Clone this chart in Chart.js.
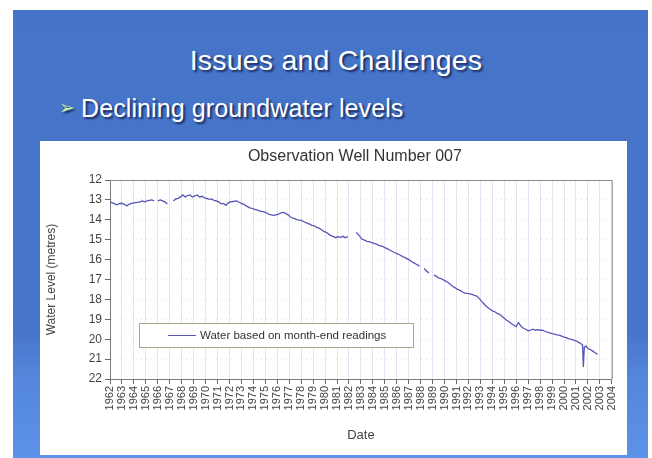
<!DOCTYPE html>
<html lang="en">
<head>
    <meta charset="UTF-8">
    <title>Issues and Challenges</title>
    <script src="https://cdn.jsdelivr.net/npm/chart.js"></script>
    <style>
        html, body {
            margin: 0;
            padding: 0;
            background: #fff;
            width: 652px;
            height: 458px;
            overflow: hidden;
            font-family: "Liberation Sans", Arial, sans-serif;
        }
        #slide {
            position: absolute;
            left: 13px;
            top: 10px;
            width: 635px;
            height: 448px;
            background: linear-gradient(to bottom, #4674c9 0%, #4775ca 72%, #5487db 82%, #5c92e8 100%);
        }
        #title {
            position: absolute;
            left: 0;
            width: 672px;
            top: 44px;
            text-align: center;
            color: #fff;
            font-size: 28.5px;
            letter-spacing: 0.2px;
            text-shadow: 2px 2px 2px #1c2c5c;
        }
        #bullet {
            position: absolute;
            left: 59px;
            top: 94px;
            color: #fff;
            font-size: 25px;
            letter-spacing: 0.1px;
            text-shadow: 2px 2px 2px #1c2c5c;
        }
        #bullet span {
            color: #c6f0a4;
            font-size: 19px;
            margin-right: 6px;
            font-family: "DejaVu Sans", sans-serif;
            vertical-align: 3px;
        }
        #panel {
            position: absolute;
            left: 40px;
            top: 141px;
            width: 587px;
            height: 314px;
            background: #fff;
        }
    </style>
</head>
<body>
    <div id="slide"></div>
    <div id="title">Issues and Challenges</div>
    <div id="bullet"><span>&#10146;</span>Declining groundwater levels</div>
    <div id="panel">
        <canvas id="wellChart" width="587" height="314"></canvas>
    </div>

    <script>
        // readings taken off the chart (year as decimal, level in metres below ground), null = gap
        const years = [
            1962.0, 1962.2, 1962.4, 1962.6, 1962.8, 1963.0, 1963.2, 1963.4, 1963.6, 1963.8,
            1964.0, 1964.3, 1964.5, 1964.7, 1964.9, 1965.1, 1965.3, 1965.5, 1965.7, 1965.85,
            1966.0, 1966.2, 1966.4, 1966.6, 1966.8, 1967.0,
            1967.3, 1967.5, 1967.7, 1967.9, 1968.1, 1968.3, 1968.5, 1968.7, 1968.9,
            1969.1, 1969.3, 1969.5, 1969.7, 1969.9, 1970.1, 1970.3, 1970.5, 1970.7, 1970.9,
            1971.1, 1971.3, 1971.5, 1971.7, 1971.9, 1972.1, 1972.3, 1972.6, 1972.8,
            1973.0, 1973.2, 1973.4, 1973.7, 1973.9, 1974.1, 1974.3, 1974.5, 1974.7, 1974.9,
            1975.1, 1975.3, 1975.5, 1975.7, 1975.9, 1976.1, 1976.3, 1976.5, 1976.7, 1976.9,
            1977.1, 1977.3, 1977.5, 1977.7, 1977.9, 1978.1, 1978.3, 1978.5, 1978.7, 1978.9,
            1979.1, 1979.3, 1979.5, 1979.7, 1979.9, 1980.1, 1980.3, 1980.5, 1980.7, 1980.9,
            1981.1, 1981.3, 1981.5, 1981.7, 1981.9, 1982.3,
            1982.6, 1982.9, 1983.1, 1983.3, 1983.5, 1983.7, 1983.9,
            1984.1, 1984.3, 1984.5, 1984.8, 1985.0, 1985.2, 1985.4, 1985.6, 1985.9,
            1986.1, 1986.3, 1986.5, 1986.7, 1987.0, 1987.2, 1987.4, 1987.6, 1987.9, 1988.1,
            1988.3, 1988.5, 1988.7, 1988.9,
            1989.1, 1989.3, 1989.5, 1989.7, 1989.9, 1990.1, 1990.3, 1990.5, 1990.7, 1990.9,
            1991.1, 1991.3, 1991.5, 1991.7, 1991.9, 1992.1, 1992.3, 1992.5, 1992.7, 1992.9,
            1993.1, 1993.3, 1993.5, 1993.7, 1994.0, 1994.2, 1994.4, 1994.6, 1994.8,
            1995.0, 1995.2, 1995.4, 1995.6, 1995.8, 1996.0, 1996.1, 1996.2, 1996.4, 1996.6, 1996.8,
            1997.0, 1997.2, 1997.4, 1997.6, 1997.8, 1998.0, 1998.2, 1998.4, 1998.6, 1998.8,
            1999.0, 1999.2, 1999.4, 1999.6, 1999.8, 2000.0, 2000.2, 2000.4, 2000.6, 2000.8,
            2001.0, 2001.2, 2001.4, 2001.55, 2001.62, 2001.7, 2001.85,
            2002.0, 2002.2, 2002.4, 2002.6, 2002.8
        ];
        const levels = [
            13.10, 13.15, 13.20, 13.25, 13.18, 13.17, 13.22, 13.30, 13.22, 13.18,
            13.15, 13.12, 13.10, 13.05, 13.10, 13.05, 13.02, 13.00, 13.05, null,
            13.05, 13.00, 13.05, 13.10, 13.20, null,
            13.05, 12.95, 12.92, 12.85, 12.75, 12.85, 12.78, 12.75, 12.85,
            12.80, 12.75, 12.85, 12.82, 12.90, 12.92, 12.97, 12.95, 13.02, 13.05,
            13.10, 13.20, 13.18, 13.27, 13.15, 13.10, 13.08, 13.05, 13.12,
            13.17, 13.22, 13.30, 13.40, 13.42, 13.48, 13.50, 13.55, 13.58, 13.60,
            13.66, 13.73, 13.75, 13.78, 13.75, 13.72, 13.65, 13.63, 13.68, 13.75,
            13.85, 13.92, 13.95, 14.00, 14.02, 14.05, 14.12, 14.17, 14.22, 14.28,
            14.30, 14.38, 14.42, 14.50, 14.58, 14.63, 14.72, 14.80, 14.85, 14.90,
            14.85, 14.88, 14.83, 14.90, 14.85, null,
            14.63, 14.82, 14.98, 15.02, 15.08, 15.10, 15.15,
            15.18, 15.22, 15.28, 15.33, 15.40, 15.45, 15.52, 15.58, 15.67,
            15.72, 15.78, 15.85, 15.90, 16.00, 16.08, 16.15, 16.22, 16.33, null,
            16.45, 16.58, 16.67, null,
            16.78, 16.83, 16.92, 16.95, 17.02, 17.08, 17.15, 17.25, 17.35, 17.42,
            17.50, 17.55, 17.63, 17.68, 17.70, 17.72, 17.75, 17.80, 17.83, 17.95,
            18.10, 18.22, 18.35, 18.45, 18.58, 18.62, 18.70, 18.75, 18.85,
            18.95, 19.05, 19.12, 19.22, 19.30, 19.37, 19.25, 19.17, 19.35, 19.45, 19.50,
            19.58, 19.55, 19.50, 19.55, 19.52, 19.55, 19.55, 19.60, 19.65, 19.68,
            19.72, 19.75, 19.78, 19.80, 19.85, 19.90, 19.92, 19.98, 20.00, 20.05,
            20.08, 20.15, 20.22, 20.28, 21.40, 20.40, 20.35,
            20.47, 20.52, 20.60, 20.68, 20.75
        ];
        const seriesLabel = 'Water based on month-end readings';
        const chartTitle = 'Observation Well Number 007';
        const yearMin = 1962, yearMax = 2004;
        const levelMin = 12, levelMax = 22;

        const lineColor = '#5656b4';
        const font = '"Liberation Sans", Arial, sans-serif';

        // title centred over the plot, top/right frame and the legend box inside the plot
        const framePlugin = {
            id: 'frame',
            afterDraw(chart) {
                const ctx = chart.ctx;
                const a = chart.chartArea;
                ctx.save();
                ctx.fillStyle = '#333';
                ctx.font = '16px ' + font;
                ctx.textAlign = 'center';
                ctx.textBaseline = 'middle';
                ctx.fillText(chartTitle, (a.left + a.right) / 2 - 6, a.top - 23);

                ctx.strokeStyle = '#8c8c8c';
                ctx.lineWidth = 1;
                ctx.beginPath();
                ctx.moveTo(a.left, a.top + 0.5);
                ctx.lineTo(a.right + 0.5, a.top + 0.5);
                ctx.lineTo(a.right + 0.5, a.bottom);
                ctx.stroke();

                const bx = a.left + 29, by = a.top + 143, bw = 274, bh = 24;
                ctx.fillStyle = '#fff';
                ctx.fillRect(bx, by, bw, bh);
                ctx.strokeStyle = '#a8a690';
                ctx.strokeRect(bx + 0.5, by + 0.5, bw, bh);
                const ds = chart.data.datasets[0];
                ctx.strokeStyle = ds.borderColor;
                ctx.beginPath();
                ctx.moveTo(bx + 29, by + 12.5);
                ctx.lineTo(bx + 57, by + 12.5);
                ctx.stroke();
                ctx.fillStyle = '#333';
                ctx.font = '11.5px ' + font;
                ctx.textAlign = 'left';
                ctx.fillText(ds.label, bx + 61, by + 12.5);
                ctx.restore();
            }
        };

        const ctx = document.getElementById('wellChart').getContext('2d');
        new Chart(ctx, {
            type: 'line',
            data: {
                datasets: [{
                    label: seriesLabel,
                    data: years.map((x, i) => ({ x: x, y: levels[i] })),
                    borderColor: lineColor,
                    borderWidth: 1.3,
                    pointRadius: 0,
                    spanGaps: false,
                    tension: 0
                }]
            },
            options: {
                responsive: false,
                animation: false,
                layout: { padding: { left: 0, right: 14, top: 39, bottom: 8 } },
                plugins: {
                    legend: { display: false },
                    tooltip: { enabled: false },
                    title: { display: false }
                },
                scales: {
                    x: {
                        type: 'linear',
                        min: yearMin,
                        max: yearMax,
                        afterFit: s => { s.height = 68; },
                        ticks: {
                            stepSize: 1,
                            autoSkip: false,
                            minRotation: 90,
                            maxRotation: 90,
                            padding: 2,
                            color: '#444',
                            font: { family: font, size: 11 },
                            callback: v => String(v)
                        },
                        grid: { color: 'rgba(222,212,240,0.7)', tickColor: '#666', tickLength: 5 },
                        border: { color: '#7a7a7a' },
                        title: {
                            display: true,
                            text: 'Date',
                            color: '#444',
                            font: { family: font, size: 13 }
                        }
                    },
                    y: {
                        reverse: true,
                        min: levelMin,
                        max: levelMax,
                        afterFit: s => { s.width = 70; },
                        ticks: {
                            stepSize: 1,
                            padding: 3,
                            color: '#444',
                            font: { family: font, size: 12 }
                        },
                        grid: { color: 'rgba(190,190,190,0.35)', tickColor: '#666', tickLength: 5 },
                        border: { color: '#7a7a7a', dash: [1, 4] },
                        title: {
                            display: true,
                            text: 'Water Level (metres)',
                            color: '#444',
                            font: { family: font, size: 12 }
                        }
                    }
                }
            },
            plugins: [framePlugin]
        });
    </script>
</body>
</html>
